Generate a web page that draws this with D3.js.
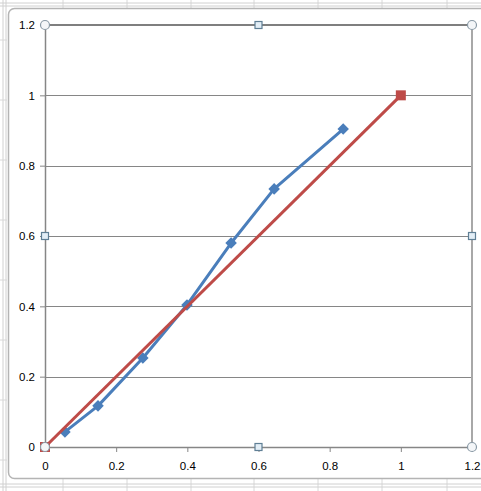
<!DOCTYPE html>
<html><head><meta charset="utf-8">
<script src="https://cdn.jsdelivr.net/npm/d3@7"></script>
<style>html,body{margin:0;padding:0;background:#fff;overflow:hidden}</style>
</head><body>
<svg id="c" width="481" height="491"></svg>
<script>
const blueX = [0.056, 0.149, 0.275, 0.399, 0.523, 0.644, 0.838];
const blueY = [0.043, 0.117, 0.253, 0.404, 0.580, 0.734, 0.904];
const redX = [0, 1];
const redY = [0, 1];
const xTicks = [0, 0.2, 0.4, 0.6, 0.8, 1, 1.2];
const yTicks = [0, 0.2, 0.4, 0.6, 0.8, 1, 1.2];
const tickLabels = ["0", "0.2", "0.4", "0.6", "0.8", "1", "1.2"];

const svg = d3.select("#c");
const x = d3.scaleLinear().domain([0, 1.2]).range([45, 472]);
const y = d3.scaleLinear().domain([0, 1.2]).range([447, 25]);

// spreadsheet background lines
const bg = svg.append("g");
const colX = [-1, 63, 127, 191, 254, 318, 382, 447];
colX.forEach(cx => {
  bg.append("line").attr("x1", cx).attr("x2", cx).attr("y1", 0).attr("y2", 491).attr("stroke", "#d8d8d8");
});
[3, 6].forEach(yy => bg.append("line").attr("x1", 0).attr("x2", 481).attr("y1", yy).attr("y2", yy).attr("stroke", "#d0d0d0"));
[484, 487].forEach(yy => bg.append("line").attr("x1", 0).attr("x2", 481).attr("y1", yy).attr("y2", yy).attr("stroke", "#d0d0d0"));
[3, 6].forEach(xx => bg.append("line").attr("x1", xx).attr("x2", xx).attr("y1", 0).attr("y2", 491).attr("stroke", "#d0d0d0"));
[40, 100, 160, 220, 280, 340, 400, 460].forEach(yy => bg.append("line").attr("x1", 0).attr("x2", 7).attr("y1", yy).attr("y2", yy).attr("stroke", "#d8d8d8"));

// chart area
svg.append("rect").attr("x", 8.5).attr("y", 8.5).attr("width", 500).attr("height", 470)
  .attr("rx", 6).attr("fill", "#fff").attr("stroke", "#b4b4b4").attr("stroke-width", 1.5);

// gridlines
svg.append("g").selectAll("line").data(yTicks.slice(1, -1)).join("line")
  .attr("x1", x(0)).attr("x2", x(1.2)).attr("y1", d => Math.round(y(d)) + 0.5).attr("y2", d => Math.round(y(d)) + 0.5)
  .attr("stroke", "#868686").attr("stroke-width", 1);

// axes
const fmt = (d, i) => tickLabels[i];
const xAxis = svg.append("g").attr("transform", `translate(0,${y(0)})`)
  .call(d3.axisBottom(x).tickValues(xTicks).tickFormat(fmt).tickSize(5).tickSizeOuter(0));
const yAxis = svg.append("g").attr("transform", `translate(${x(0)},0)`)
  .call(d3.axisLeft(y).tickValues(yTicks).tickFormat(fmt).tickSize(5).tickSizeOuter(0));
[xAxis, yAxis].forEach(a => {
  a.select(".domain").attr("stroke", "#868686").attr("stroke-width", 1.5);
  a.selectAll(".tick line").attr("stroke", "#868686");
  a.selectAll(".tick text").attr("fill", "#000").attr("font-family", "Liberation Sans, Arial, sans-serif").attr("font-size", 11.5);
});
xAxis.selectAll(".tick text").attr("dy", "1.3em");
yAxis.selectAll(".tick text").attr("x", -10);

// plot area selection outline (top & right)
svg.append("line").attr("x1", x(0)).attr("x2", x(1.2)).attr("y1", y(1.2)).attr("y2", y(1.2)).attr("stroke", "#7f7f7f").attr("stroke-width", 2);
svg.append("line").attr("x1", x(1.2)).attr("x2", x(1.2)).attr("y1", y(1.2)).attr("y2", y(0)).attr("stroke", "#a8a8a8").attr("stroke-width", 2);

// series
const line = d3.line().x(d => x(d[0])).y(d => y(d[1]));
const red = redX.map((v, i) => [v, redY[i]]);
const blue = blueX.map((v, i) => [v, blueY[i]]);

svg.append("path").datum(blue).attr("d", line).attr("fill", "none").attr("stroke", "#4a7ebb").attr("stroke-width", 3).attr("stroke-linejoin", "round");
svg.append("g").selectAll("path").data(blue).join("path")
  .attr("transform", d => `translate(${x(d[0])},${y(d[1])})`)
  .attr("d", d3.symbol(d3.symbolDiamond2, 85)()).attr("fill", "#4a7ebb");

svg.append("path").datum(red).attr("d", line).attr("fill", "none").attr("stroke", "#be4b48").attr("stroke-width", 3);
svg.append("g").selectAll("rect").data(red).join("rect")
  .attr("x", d => x(d[0]) - 5).attr("y", d => y(d[1]) - 5).attr("width", 10).attr("height", 10).attr("fill", "#be4b48");

// selection handles
const corners = [[0, 0], [1.2, 0], [0, 1.2], [1.2, 1.2]];
const mids = [[0.6, 0], [0.6, 1.2], [0, 0.6], [1.2, 0.6]];
svg.append("g").selectAll("circle").data(corners).join("circle")
  .attr("cx", d => x(d[0])).attr("cy", d => y(d[1])).attr("r", 4.5)
  .attr("fill", "#f4f6f8").attr("stroke", "#8a9aa6").attr("stroke-width", 1.2);
svg.append("g").selectAll("rect").data(mids).join("rect")
  .attr("x", d => x(d[0]) - 3.5).attr("y", d => y(d[1]) - 3.5).attr("width", 7).attr("height", 7)
  .attr("fill", "#e3eef6").attr("stroke", "#5f7f95").attr("stroke-width", 1.2);
</script>
</body></html>
